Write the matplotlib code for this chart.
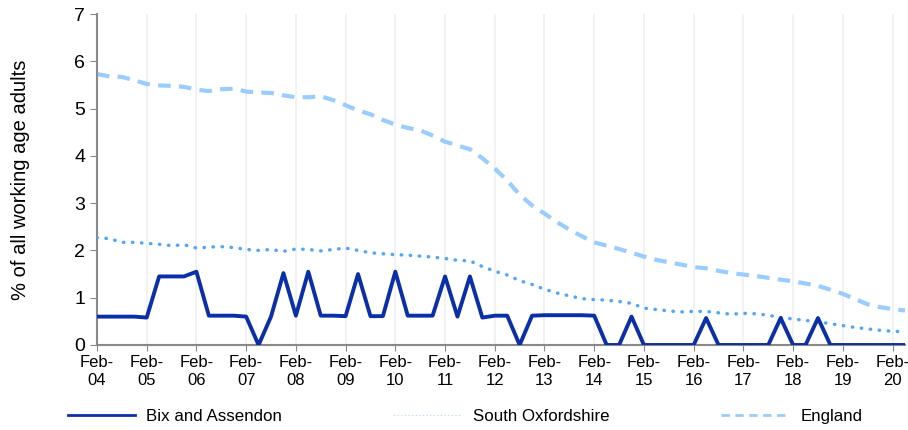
import matplotlib
matplotlib.use("Agg")
from matplotlib import pyplot as plt

plt.rcParams['font.family'] = ['Liberation Sans', 'DejaVu Sans']

# quarterly points, Feb-04 .. May-20
years = ['04', '05', '06', '07', '08', '09', '10', '11', '12', '13',
         '14', '15', '16', '17', '18', '19', '20']

bix = [0.6, 0.6, 0.6, 0.6, 0.58, 1.45, 1.45, 1.45, 1.55, 0.62,
       0.62, 0.62, 0.6, 0.0, 0.6, 1.52, 0.62, 1.55, 0.62, 0.62,
       0.61, 1.5, 0.61, 0.61, 1.55, 0.62, 0.62, 0.62, 1.45, 0.6,
       1.45, 0.58, 0.62, 0.62, 0.0, 0.62, 0.63, 0.63, 0.63, 0.63,
       0.62, 0.0, 0.0, 0.6, 0.0, 0.0, 0.0, 0.0, 0.0, 0.57,
       0.0, 0.0, 0.0, 0.0, 0.0, 0.57, 0.0, 0.0, 0.57, 0.0,
       0.0, 0.0, 0.0, 0.0, 0.0, 0.0]

south_oxon = [2.27, 2.25, 2.17, 2.17, 2.15, 2.13, 2.10, 2.12, 2.05, 2.07,
              2.08, 2.06, 2.02, 2.00, 2.02, 1.98, 2.03, 2.02, 1.99, 2.02,
              2.05, 2.00, 1.95, 1.93, 1.91, 1.90, 1.88, 1.86, 1.83, 1.79,
              1.78, 1.66, 1.56, 1.48, 1.36, 1.28, 1.18, 1.10, 1.04, 0.98,
              0.96, 0.95, 0.92, 0.88, 0.78, 0.75, 0.72, 0.70, 0.71, 0.71,
              0.68, 0.65, 0.67, 0.66, 0.63, 0.58, 0.55, 0.52, 0.49, 0.45,
              0.41, 0.37, 0.34, 0.31, 0.29, 0.28]

england = [5.73, 5.68, 5.67, 5.60, 5.52, 5.49, 5.48, 5.46, 5.40, 5.37,
           5.41, 5.42, 5.36, 5.34, 5.33, 5.28, 5.24, 5.24, 5.26, 5.18,
           5.07, 4.96, 4.88, 4.76, 4.66, 4.59, 4.54, 4.43, 4.30, 4.22,
           4.14, 3.95, 3.73, 3.48, 3.18, 2.95, 2.78, 2.60, 2.44, 2.30,
           2.17, 2.10, 2.03, 1.95, 1.87, 1.80, 1.75, 1.70, 1.65, 1.62,
           1.57, 1.52, 1.49, 1.46, 1.42, 1.38, 1.35, 1.30, 1.25, 1.17,
           1.08, 0.97, 0.86, 0.80, 0.76, 0.73]

x = list(range(len(bix)))

fig = plt.figure(figsize=(9.08, 4.30), dpi=100)
ax = fig.add_axes([0.1068, 0.1977, 0.8899, 0.7697])

ax.plot(x, england, color='#99ccff', lw=3, linestyle=(0, (3, 2)), label='England', zorder=2)
ax.plot(x, south_oxon, color='#4da6ff', lw=2.5, linestyle=(0, (0.1, 2.5)),
        dash_capstyle='round', label='South Oxfordshire', zorder=3)
ax.plot(x, bix, color='#0a2fa8', lw=2.8, label='Bix and Assendon', zorder=4)

ax.set_xlim(0, len(x) - 1)
ax.set_ylim(0, 7)
ax.set_yticks(range(0, 8))
ax.set_xticks(range(0, len(x), 4))
ax.set_xticklabels(['Feb-\n' + y for y in years])
ax.tick_params(axis='y', labelsize=14, colors='#898989', labelcolor='black', length=5)
ax.tick_params(axis='x', labelsize=12, colors='#898989', labelcolor='black', length=4)
ax.grid(True, axis='x', color='#f0f0f0', lw=1.2)
ax.set_axisbelow(True)

for s in ['top', 'right']:
    ax.spines[s].set_visible(False)
for s in ['left', 'bottom']:
    ax.spines[s].set_color('#898989')
    ax.spines[s].set_linewidth(1.5)

ax.set_ylabel('% of all working age adults', fontsize=14.5, labelpad=32)

# legend order as in picture
h, l = ax.get_legend_handles_labels()
order = [2, 1, 0]
leg = fig.legend([h[i] for i in order], [l[i] for i in order], loc='lower center',
                 bbox_to_anchor=(0.512, -0.022), ncol=3, frameon=False, fontsize=12.2,
                 handlelength=4.0, columnspacing=6.6, handletextpad=0.65)
leg.legend_handles[0].set_linewidth(2)
leg.legend_handles[1].set_linewidth(1)
leg.legend_handles[1].set_color('#b8dcff')
leg.legend_handles[2].set_linewidth(2)

plt.savefig('out.png')
